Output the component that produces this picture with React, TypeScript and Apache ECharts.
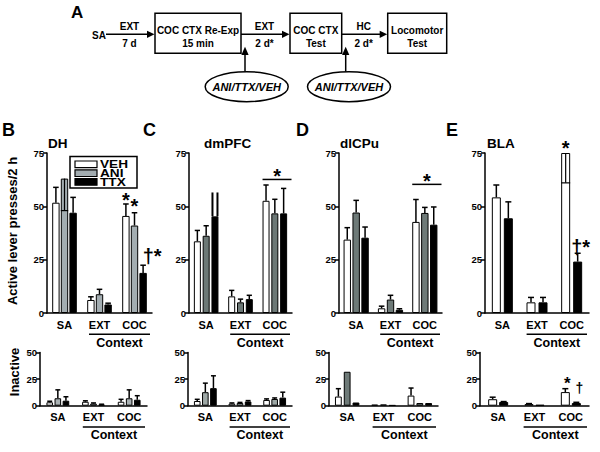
import React, { useEffect, useRef } from "react";
import * as echarts from "echarts";

const FONT = "'Liberation Sans', Arial, Helvetica, sans-serif";

// ---------- data ----------
const categories = ["SA", "EXT", "COC"];
const groupNames = ["VEH", "ANI", "TTX"];
const activeTicksMax = 75;
const inactiveTicksMax = 50;
const tickInterval = 25;

// Active lever presses / 2 h (bar means, tops of error bars)
const dhVEH = [51.7, 6.1, 45.5];
const dhVEHErr = [58.9, 7.6, 51.1];
const dhANI = [63, 8.8, 41];
const dhANIErr = [null, 11.1, 47];
const dhTTX = [47, 4, 18.8];
const dhTTXErr = [54.2, 4.6, 22.4];

const dmpfcVEH = [33.6, 7.8, 52.6];
const dmpfcVEHErr = [38.7, 10.6, 60];
const dmpfcANI = [36.2, 5, 46.7];
const dmpfcANIErr = [40.9, 6.5, 53.3];
const dmpfcTTX = [45.3, 6.5, 46.7];
const dmpfcTTXErr = [null, 8.3, 58.4];

const dlcpuVEH = [34.4, 2.2, 42.7];
const dlcpuVEHErr = [40, 3.2, 53.2];
const dlcpuANI = [47.1, 6.3, 46.9];
const dlcpuANIErr = [52.8, 8.3, 49.5];
const dlcpuTTX = [35.3, 1.5, 41.4];
const dlcpuTTXErr = [40.3, 2, 49.7];

const blaVEH = [54.2, 5, 75];
const blaVEHErr = [60, 7.3, null];
const blaTTX = [44.4, 5, 24.1];
const blaTTXErr = [52.1, 7.3, 28];

// Inactive lever presses
const dhInVEH = [3.2, 3.7, 3.7];
const dhInVEHErr = [4.2, 4.6, 6];
const dhInANI = [7, 2, 7];
const dhInANIErr = [14.9, 2.6, 14.9];
const dhInTTX = [4.7, 1, 5.6];
const dhInTTXErr = [8.4, 1.4, 9.4];

const dmpfcInVEH = [4.4, 2, 5.4];
const dmpfcInVEHErr = [6, 2.6, 6.4];
const dmpfcInANI = [12.7, 2.5, 6.3];
const dmpfcInANIErr = [21.2, 3.1, 7.3];
const dmpfcInTTX = [16.5, 4, 7.6];
const dmpfcInTTXErr = [28.1, 4.8, 12.7];

const dlcpuInVEH = [8.6, 1, 9.5];
const dlcpuInVEHErr = [16, null, 16.6];
const dlcpuInANI = [31.9, 1.2, 2.5];
const dlcpuInANIErr = [null, null, null];
const dlcpuInTTX = [3, 0.5, 2.5];
const dlcpuInTTXErr = [null, null, null];

const blaInVEH = [6.1, 1.5, 12.8];
const blaInVEHErr = [8, 2, 16];
const blaInTTX = [3.5, 0.8, 2.5];
const blaInTTXErr = [3.9, null, 3.2];

// error bars drawn inside a bar (cat, group, low, high)
const dhInner = [{ cat: 0, g: 1, lo: 48, hi: 63 }];
const blaInner = [{ cat: 2, g: 0, lo: 61, hi: 75 }];
// double stroke above a bar
const dmpfcDouble = [{ cat: 0, g: 2, lo: 45.3, hi: 56.5 }];

// significance marks
const dhMarks = [
  { cat: 2, g: 0, v: 55.3, text: "*" },
  { cat: 2, g: 1, v: 52.2, text: "*" },
  { cat: 2, g: 2, v: 28, text: "†*", dx: 9 },
];
const blaMarks = [
  { cat: 2, g: 0, v: 79.5, text: "*" },
  { cat: 2, g: 2, v: 32, text: "†*", dx: 3 },
];
const blaInMarks = [
  { cat: 2, g: 0, v: 24.5, text: "*", dx: 2, size: 17 },
  { cat: 2, g: 2, v: 17.8, text: "†", dx: 3, size: 14 },
];
const dmpfcSig = [{ cat: 2, v: 62.6, star: 66.5 }];
const dlcpuSig = [{ cat: 2, v: 60.3, star: 64 }];

// ---------- colours ----------
const WHITE = "#ffffff";
const BLACK = "#000000";
const GREY_B = "#a3adb1";
const GREY_B_IN = "#a9b1b3";
const GREY_C = "#6c7876";
const GREY_C_IN = "#9da7a5";
const GREY_D = "#6e7a78";

// ---------- layout ----------
const ROW_TOP = { top: 153, height: 160, max: activeTicksMax };
const ROW_BOT = { top: 352.5, height: 53.2, max: inactiveTicksMax };
const STAR = 20;

type Panel = {
  row: typeof ROW_TOP;
  left: number;
  width: number;
  bw: number;
  gap: number;
  groups: number[];
  colors: string[];
  means: number[][];
  errs: (number | null)[][];
  inner?: { cat: number; g: number; lo: number; hi: number }[];
  dbl?: { cat: number; g: number; lo: number; hi: number }[];
  marks?: { cat: number; g: number; v: number; text: string; dx?: number; size?: number }[];
  sig?: { cat: number; v: number; star: number }[];
};

const panels: Panel[] = [
  {
    row: ROW_TOP, left: 47, width: 105, bw: 7.4, gap: 1.2, groups: [0, 1, 2],
    colors: [WHITE, GREY_B, BLACK], means: [dhVEH, dhANI, dhTTX], errs: [dhVEHErr, dhANIErr, dhTTXErr],
    inner: dhInner, marks: dhMarks,
  },
  {
    row: ROW_TOP, left: 189, width: 103, bw: 7, gap: 1.8, groups: [0, 1, 2],
    colors: [WHITE, GREY_C, BLACK], means: [dmpfcVEH, dmpfcANI, dmpfcTTX], errs: [dmpfcVEHErr, dmpfcANIErr, dmpfcTTXErr],
    dbl: dmpfcDouble, sig: dmpfcSig,
  },
  {
    row: ROW_TOP, left: 339, width: 103, bw: 7.4, gap: 1.5, groups: [0, 1, 2],
    colors: [WHITE, GREY_D, BLACK], means: [dlcpuVEH, dlcpuANI, dlcpuTTX], errs: [dlcpuVEHErr, dlcpuANIErr, dlcpuTTXErr],
    sig: dlcpuSig,
  },
  {
    row: ROW_TOP, left: 485, width: 104, bw: 9, gap: 3, groups: [0, 2],
    colors: [WHITE, BLACK], means: [blaVEH, blaTTX], errs: [blaVEHErr, blaTTXErr],
    inner: blaInner, marks: blaMarks,
  },
  {
    row: ROW_BOT, left: 40, width: 107, bw: 6.6, gap: 1.5, groups: [0, 1, 2],
    colors: [WHITE, GREY_B_IN, BLACK], means: [dhInVEH, dhInANI, dhInTTX], errs: [dhInVEHErr, dhInANIErr, dhInTTXErr],
  },
  {
    row: ROW_BOT, left: 188, width: 104, bw: 6.6, gap: 1.5, groups: [0, 1, 2],
    colors: [WHITE, GREY_C_IN, BLACK], means: [dmpfcInVEH, dmpfcInANI, dmpfcInTTX], errs: [dmpfcInVEHErr, dmpfcInANIErr, dmpfcInTTXErr],
  },
  {
    row: ROW_BOT, left: 329, width: 109, bw: 6.8, gap: 2, groups: [0, 1, 2],
    colors: [WHITE, GREY_D, BLACK], means: [dlcpuInVEH, dlcpuInANI, dlcpuInTTX], errs: [dlcpuInVEHErr, dlcpuInANIErr, dlcpuInTTXErr],
  },
  {
    row: ROW_BOT, left: 480, width: 109, bw: 9, gap: 2, groups: [0, 2],
    colors: [WHITE, BLACK], means: [blaInVEH, blaInTTX], errs: [blaInVEHErr, blaInTTXErr],
    marks: blaInMarks,
  },
];

const panelLetters = [
  { t: "B", x: 2, y: 129.5 },
  { t: "C", x: 143, y: 130 },
  { t: "D", x: 296, y: 130 },
  { t: "E", x: 446, y: 130 },
];
const regionTitles = [
  { t: "DH", x: 48 },
  { t: "dmPFC", x: 204 },
  { t: "dlCPu", x: 340 },
  { t: "BLA", x: 487 },
];

function buildOption() {
  const grid: any[] = [];
  const xAxis: any[] = [];
  const yAxis: any[] = [];
  const series: any[] = [];
  const graphics: any[] = [];

  panels.forEach((p, gi) => {
    grid.push({ left: p.left, top: p.row.top, width: p.width, height: p.row.height, containLabel: false });
    xAxis.push({
      type: "category", gridIndex: gi, data: categories,
      axisTick: { show: false },
      axisLine: { lineStyle: { color: BLACK, width: 1.5 } },
      axisLabel: { color: BLACK, fontWeight: "bold", fontSize: 11, fontFamily: FONT, margin: 6 },
    });
    yAxis.push({
      type: "value", gridIndex: gi, min: 0, max: p.row.max, interval: tickInterval,
      axisLine: { show: true, lineStyle: { color: BLACK, width: 1.5 } },
      axisTick: { show: true, length: 4, lineStyle: { color: BLACK, width: 1.5 } },
      splitLine: { show: false },
      axisLabel: { color: BLACK, fontWeight: "bold", fontSize: 9.5, fontFamily: FONT, margin: 3 },
    });

    const n = p.groups.length;
    const step = p.bw + p.gap;
    const off = (k: number) => (k - (n - 1) / 2) * step;
    const kOf = (g: number) => p.groups.indexOf(g);

    p.groups.forEach((g, k) => {
      series.push({
        type: "bar", name: groupNames[g], xAxisIndex: gi, yAxisIndex: gi,
        data: p.means[k], barWidth: p.bw, barGap: `${(p.gap / p.bw) * 100}%`,
        itemStyle: { color: p.colors[k], borderColor: BLACK, borderWidth: 1 },
        silent: true, z: 2,
      });
    });

    const items: any[] = [];
    p.groups.forEach((g, k) => {
      p.errs[k].forEach((e, cat) => {
        if (e != null) items.push({ kind: "err", cat, k, lo: p.means[k][cat], hi: e });
      });
    });
    (p.inner || []).forEach((it) => items.push({ kind: "inner", cat: it.cat, k: kOf(it.g), lo: it.lo, hi: it.hi }));
    (p.dbl || []).forEach((it) => items.push({ kind: "dbl", cat: it.cat, k: kOf(it.g), lo: it.lo, hi: it.hi }));
    (p.marks || []).forEach((it) =>
      items.push({ kind: "mark", cat: it.cat, k: kOf(it.g), lo: it.v, hi: it.v, text: it.text, dx: it.dx || 0, size: it.size || STAR })
    );
    (p.sig || []).forEach((it) => items.push({ kind: "sig", cat: it.cat, k: 0, lo: it.v, hi: it.star }));

    const lineStyle = { stroke: BLACK, lineWidth: 1.5 };
    series.push({
      type: "custom", xAxisIndex: gi, yAxisIndex: gi, clip: false, z: 5, silent: true,
      data: items.map((it) => [it.cat, it.hi]),
      renderItem: (params: any, api: any) => {
        const it = items[params.dataIndex];
        const cc = api.coord([it.cat, 0])[0];
        const cx = cc + off(it.k);
        const yLo = api.coord([it.cat, it.lo])[1];
        const yHi = api.coord([it.cat, it.hi])[1];
        const cap = Math.min(p.bw * 0.75, 6);
        if (it.kind === "err") {
          return {
            type: "group",
            children: [
              { type: "line", shape: { x1: cx, y1: yLo, x2: cx, y2: yHi }, style: lineStyle },
              { type: "line", shape: { x1: cx - cap / 2, y1: yHi, x2: cx + cap / 2, y2: yHi }, style: lineStyle },
            ],
          };
        }
        if (it.kind === "inner") {
          return {
            type: "group",
            children: [
              { type: "line", shape: { x1: cx, y1: yLo, x2: cx, y2: yHi }, style: { stroke: BLACK, lineWidth: 1.2 } },
              { type: "line", shape: { x1: cx - p.bw / 2, y1: yLo, x2: cx + p.bw / 2, y2: yLo }, style: { stroke: BLACK, lineWidth: 1.2 } },
            ],
          };
        }
        if (it.kind === "dbl") {
          const d = p.bw / 2 - 1;
          return {
            type: "group",
            children: [
              { type: "line", shape: { x1: cx - d, y1: yLo, x2: cx - d, y2: yHi }, style: { stroke: BLACK, lineWidth: 2 } },
              { type: "line", shape: { x1: cx + d, y1: yLo, x2: cx + d, y2: yHi }, style: { stroke: BLACK, lineWidth: 2 } },
            ],
          };
        }
        if (it.kind === "mark") {
          const fs = it.size;
          const shift = it.text === "*" ? 0.23 * fs : 0.12 * fs;
          return {
            type: "text", x: cx + it.dx, y: yHi + shift,
            style: { text: it.text, fill: BLACK, fontSize: fs, fontWeight: "bold", fontFamily: FONT, align: "center", verticalAlign: "middle" },
          };
        }
        // sig line over group
        const catW = api.size([1, 0])[0];
        const groupW = n * p.bw + (n - 1) * p.gap;
        const x1 = cc - groupW / 2;
        const x2 = cc + catW / 2 - 0.5;
        const yStar = api.coord([it.cat, it.hi])[1];
        return {
          type: "group",
          children: [
            { type: "line", shape: { x1, y1: yLo, x2, y2: yLo }, style: lineStyle },
            {
              type: "text", x: (x1 + x2) / 2, y: yStar + 0.23 * STAR,
              style: { text: "*", fill: BLACK, fontSize: STAR, fontWeight: "bold", fontFamily: FONT, align: "center", verticalAlign: "middle" },
            },
          ],
        };
      },
    });

    // "Context" underline + label under EXT & COC
    const catW = p.width / categories.length;
    const lx1 = p.left + catW * 1.2;
    const lx2 = p.left + p.width - 2;
    const axisY = p.row.top + p.row.height;
    graphics.push({ type: "line", shape: { x1: lx1, y1: axisY + 21.3, x2: lx2, y2: axisY + 21.3 }, style: { stroke: BLACK, lineWidth: 1.5 } });
    graphics.push({
      type: "text", x: (lx1 + lx2) / 2, y: axisY + 29.5,
      style: { text: "Context", fill: BLACK, fontSize: 12.5, fontWeight: "bold", fontFamily: FONT, align: "center", verticalAlign: "middle" },
    });
  });

  const txt = (t: string, x: number, y: number, fs: number, extra: any = {}) => ({
    type: "text", x, y,
    style: { text: t, fill: BLACK, fontSize: fs, fontWeight: "bold", fontFamily: FONT, align: "center", verticalAlign: "middle", ...extra },
  });

  panelLetters.forEach((l) => graphics.push(txt(l.t, l.x, l.y, 18, { align: "left" })));
  regionTitles.forEach((r) => graphics.push(txt(r.t, r.x, 143, 13.5, { align: "left" })));

  // y-axis names
  graphics.push({ ...txt("Active lever presses/2 h", 12, 231, 13), rotation: Math.PI / 2 });
  graphics.push({ ...txt("Inactive", 14, 372, 13), rotation: Math.PI / 2 });

  // legend in panel B
  graphics.push({ type: "rect", shape: { x: 70, y: 156.5, width: 67, height: 31.5 }, style: { fill: WHITE, stroke: BLACK, lineWidth: 1.5 } });
  const legendRows = [164.3, 173.2, 181.9];
  const legendColors = [WHITE, GREY_B, BLACK];
  groupNames.forEach((g, i) => {
    graphics.push({ type: "rect", shape: { x: 75, y: legendRows[i] - 3.3, width: 22, height: 6.6 }, style: { fill: legendColors[i], stroke: BLACK, lineWidth: 1.2 } });
    graphics.push({ ...txt(g, 0, 0, 10.5, { align: "left" }), x: 100, y: legendRows[i] + 0.4, scaleX: 1.3 });
  });

  // ---- panel A: protocol diagram ----
  const stroke = { stroke: BLACK, lineWidth: 1.5, fill: "none" };
  graphics.push(txt("A", 71, 12.5, 17, { align: "left" }));
  const boxes = [
    { x: 155, w: 86, l1: "COC CTX Re-Exp", l2: "15 min" },
    { x: 290, w: 51.7, l1: "COC CTX", l2: "Test" },
    { x: 387.7, w: 59, l1: "Locomotor", l2: "Test" },
  ];
  boxes.forEach((b) => {
    graphics.push({ type: "rect", shape: { x: b.x, y: 13.3, width: b.w, height: 40 }, style: { ...stroke, fill: WHITE } });
    graphics.push(txt(b.l1, b.x + b.w / 2, 30.5, 10));
    graphics.push(txt(b.l2, b.x + b.w / 2, 43, 10));
  });
  graphics.push(txt("SA", 99, 35, 10));
  const arrows = [
    { x1: 106, x2: 155, top: "EXT", bot: "7 d" },
    { x1: 241, x2: 290, top: "EXT", bot: "2 d*" },
    { x1: 341.7, x2: 387.7, top: "HC", bot: "2 d*" },
  ];
  const ay = 34.3;
  arrows.forEach((a) => {
    graphics.push({ type: "line", shape: { x1: a.x1, y1: ay, x2: a.x2 - 7, y2: ay }, style: stroke });
    graphics.push({ type: "polygon", shape: { points: [[a.x2 - 8, ay - 3.6], [a.x2 - 0.5, ay], [a.x2 - 8, ay + 3.6]] }, style: { fill: BLACK } });
    const mid = (a.x1 + a.x2) / 2 - 1;
    graphics.push(txt(a.top, mid, 26, 10));
    graphics.push(txt(a.bot, mid, 43, 10));
  });
  const ellipses = [
    { cx: 246.7, ax: 245 },
    { cx: 349, ax: 345.7 },
  ];
  ellipses.forEach((e) => {
    graphics.push({ type: "line", shape: { x1: e.ax, y1: 71.7, x2: e.ax, y2: 54 }, style: stroke });
    graphics.push({ type: "polygon", shape: { points: [[e.ax - 3.6, 55], [e.ax, 46.7], [e.ax + 3.6, 55]] }, style: { fill: BLACK } });
    graphics.push({ type: "ellipse", shape: { cx: e.cx, cy: 86.7, rx: 41.5, ry: 15 }, style: { ...stroke, fill: WHITE } });
    graphics.push(txt("ANI/TTX/VEH", e.cx, 87, 11, { fontStyle: "italic" }));
  });

  return {
    animation: false,
    backgroundColor: WHITE,
    grid, xAxis, yAxis, series,
    graphic: { elements: graphics },
  };
}

export default function App() {
  const ref = useRef<HTMLDivElement>(null);
  useEffect(() => {
    if (!ref.current) return;
    const chart = echarts.init(ref.current, undefined, { renderer: "svg" });
    chart.setOption(buildOption() as any);
    return () => chart.dispose();
  }, []);
  return <div ref={ref} style={{ position: "fixed", left: 0, top: 0, width: 600, height: 452 }} />;
}
